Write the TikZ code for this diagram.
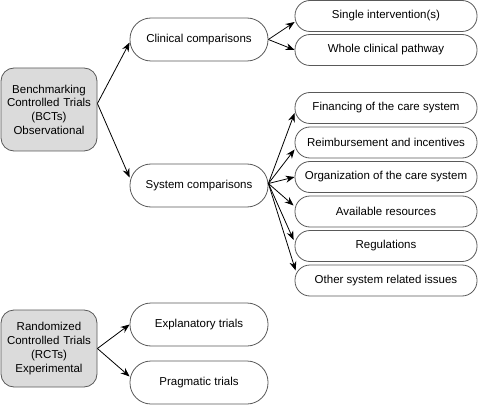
\documentclass[tikz,border=0pt]{standalone}
\usepackage{fontspec}
\setmainfont{Liberation Sans}
\usetikzlibrary{arrows.meta}

\begin{document}
\begin{tikzpicture}[x=1pt, y=1pt,
    font=\fontsize{11.5}{13.7}\selectfont,
    trialbox/.style={draw=black!65, line width=0.8pt, fill=gray!28, rounded corners=13pt,
        minimum width=96pt, text width=94pt, align=center, inner sep=0pt},
    groupbox/.style={draw=black!65, line width=0.8pt, rounded corners=21pt,
        minimum width=138pt, minimum height=43pt, inner sep=0pt},
    itembox/.style={draw=black!65, line width=0.8pt, rounded corners=15pt,
        minimum width=182pt, minimum height=31pt, inner sep=0pt},
    arr/.style={-{Stealth[length=9pt,width=7pt]}, line width=0.8pt}]

    % Fix the page size
    \useasboundingbox (0,0) rectangle (479,405);

    % Draw the two kinds of trials
    \node[trialbox, minimum height=83pt] (bct) at (49,295.5) {Benchmarking\\Controlled Trials\\(BCTs)\\Observational};
    \node[trialbox, minimum height=77pt] (rct) at (49,56.5) {Randomized\\Controlled Trials\\(RCTs)\\Experimental};

    % Draw the comparison groups
    \node[groupbox] (clin) at (199,365.5) {Clinical comparisons};
    \node[groupbox] (sysc) at (199,219.5) {System comparisons};
    \node[groupbox] (expl) at (199,80.5) {Explanatory trials};
    \node[groupbox] (prag) at (199,22.5) {Pragmatic trials};

    % Draw the items of each group
    \node[itembox] (single) at (386,389) {Single intervention(s)};
    \node[itembox] (whole) at (386,355) {Whole clinical pathway};
    \node[itembox] (fin) at (386,297) {Financing of the care system};
    \node[itembox] (reim) at (386,262.5) {Reimbursement and incentives};
    \node[itembox] (org) at (386,228) {Organization of the care system};
    \node[itembox] (avail) at (386,193.5) {Available resources};
    \node[itembox] (reg) at (386,159) {Regulations};
    \node[itembox] (oth) at (386,124.5) {Other system related issues};

    % Draw the arrows
    \draw[arr] ([yshift=6pt]bct.east) -- ([yshift=-3pt]clin.west);
    \draw[arr] ([yshift=6pt]bct.east) -- ([yshift=8pt]sysc.west);
    \draw[arr] (clin.east) -- ([yshift=-6pt]single.west);
    \draw[arr] (clin.east) -- (whole.west);
    \draw[arr] ([yshift=2pt]sysc.east) -- ([yshift=-5pt]fin.west);
    \draw[arr] ([yshift=2pt]sysc.east) -- ([yshift=-7pt]reim.west);
    \draw[arr] ([yshift=2pt]sysc.east) -- (org.west);
    \draw[arr] ([yshift=2pt]sysc.east) -- ([xshift=-1pt,yshift=6pt]avail.west);
    \draw[arr] ([yshift=2pt]sysc.east) -- ([xshift=-1pt,yshift=6pt]reg.west);
    \draw[arr] ([yshift=2pt]sysc.east) -- ([xshift=1pt,yshift=10pt]oth.west);
    \draw[arr] (rct.east) -- (expl.west);
    \draw[arr] (rct.east) -- ([yshift=6pt]prag.west);
\end{tikzpicture}
\end{document}
